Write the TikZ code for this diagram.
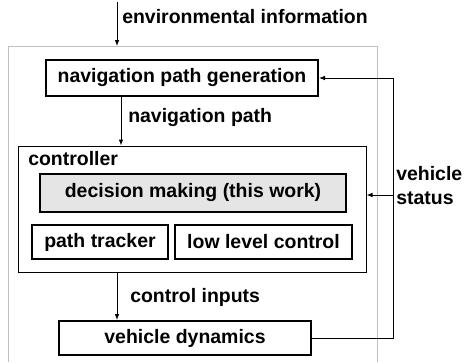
\documentclass[tikz,border=0pt]{standalone}
\usepackage{fontspec}
\setmainfont{Liberation Sans}
\usetikzlibrary{arrows.meta, positioning}

\tikzset{
  thickbox/.style={draw, line width=1.5pt, inner sep=0pt},
  thinbox/.style={draw, line width=0.75pt, inner sep=0pt},
  textlabel/.style={anchor=west, inner sep=0pt},
  flow/.style={-{Latex[length=4.5pt,width=3.5pt]}, line width=0.75pt},
}

\begin{document}
\begin{tikzpicture}[x=0.75pt, y=-0.75pt, every node/.style={font=\bfseries\fontsize{14.6}{18}\selectfont}]
\useasboundingbox (0,0) rectangle (465,362);
\draw[black!25, line width=0.75pt] (8,362) -- (8,46) -- (377,46) -- (377,362);

\node[thickbox, minimum width=204pt, minimum height=27pt] at (182,78) (navgen) {navigation path generation};
\node[thinbox, minimum width=261pt, minimum height=94.5pt] at (192,209) (ctrl) {};
\node[textlabel] at (28,159) (ctrllabel) {controller};
\node[thickbox, fill=black!10, minimum width=229.5pt, minimum height=28.5pt] at (193,192.5) (decide) {decision making (this work)};
\node[thickbox, minimum width=102pt, minimum height=25.5pt] at (100,242) (tracker) {path tracker};
\node[thickbox, minimum width=132.75pt, minimum height=25.5pt] at (263.5,242) (lowlevel) {low level control};
\node[thickbox, minimum width=189pt, minimum height=25.5pt] at (185,338) (vdyn) {vehicle dynamics};

\node[textlabel] at (122,17) (envlabel) {environmental information};
\node[textlabel] at (128,118) (navlabel) {navigation path};
\node[textlabel] at (130,297) (inputlabel) {control inputs};
\node[textlabel, align=left] at (396,186) (statuslabel) {vehicle\\status};

\coordinate (envsrc) at (117,2);
\coordinate (envin) at (117,46);
\coordinate (navcol) at (121,0);
\coordinate (outcol) at (117,0);
\coordinate (fbcol) at (393,0);
\coordinate (fbtap) at (393,195);

\draw[flow] (envsrc) -- (envin);
\draw[flow] (navgen.south -| navcol) -- (ctrl.north -| navcol);
\draw[flow] (ctrl.south -| outcol) -- (vdyn.north -| outcol);
\draw[flow] (vdyn.east) -| (fbcol |- navgen.east) -- (navgen.east);
\draw[flow] (fbtap) -- (ctrl.east |- fbtap);

\end{tikzpicture}
\end{document}
